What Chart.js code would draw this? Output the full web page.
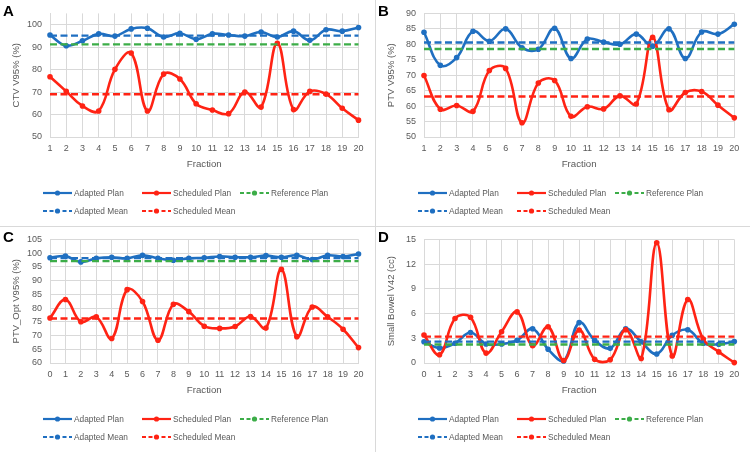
<!DOCTYPE html>
<html>
<head>
<meta charset="utf-8">
<script src="https://cdn.jsdelivr.net/npm/chart.js@4.4.1/dist/chart.umd.min.js"></script>
<style>
  html, body { margin: 0; padding: 0; background: #fff; }
  body { width: 750px; height: 452px; position: relative; overflow: hidden; font-family: "Liberation Sans", Arial, sans-serif; }
  .panel { position: absolute; width: 375px; height: 226px; }
  .panel canvas { position: absolute; left: 0; top: 0; }
  .tag { position: absolute; left: 3px; top: 3px; font: bold 15px "Liberation Sans", Arial, sans-serif; line-height: 15px; color: #000; }
  .leg { position: absolute; height: 10px; display: flex; align-items: center; white-space: nowrap;
         font-size: 8.3px; color: #595959; }
  .leg svg { margin-right: 2px; }
  .vdiv { position: absolute; left: 375px; top: 0; width: 1px; height: 452px; background: #d9d9d9; }
  .hdiv { position: absolute; left: 0; top: 226px; width: 750px; height: 1px; background: #d9d9d9; }
</style>
</head>
<body>
<div class="vdiv"></div>
<div class="hdiv"></div>

<div class="panel" id="pA" style="left:0;top:0"><canvas id="cA" width="375" height="226"></canvas><div class="tag">A</div></div>
<div class="panel" id="pB" style="left:375px;top:0"><canvas id="cB" width="375" height="226"></canvas><div class="tag">B</div></div>
<div class="panel" id="pC" style="left:0;top:226px"><canvas id="cC" width="375" height="226"></canvas><div class="tag">C</div></div>
<div class="panel" id="pD" style="left:375px;top:226px"><canvas id="cD" width="375" height="226"></canvas><div class="tag">D</div></div>

<script>
// ── Categories ───────────────────────────
const fractions1to20 = ['1','2','3','4','5','6','7','8','9','10','11','12','13','14','15','16','17','18','19','20'];
const fractions0to20 = ['0','1','2','3','4','5','6','7','8','9','10','11','12','13','14','15','16','17','18','19','20'];
const seriesNames = ['Adapted Plan', 'Scheduled Plan', 'Reference Plan', 'Adapted Mean', 'Scheduled Mean'];

// ── A: CTV V95% ──────────────────────────
const ctvAdapted   = [95.4, 90.6, 92.8, 95.9, 94.9, 98.1, 98.4, 94.5, 96.2, 93.5, 95.9, 95.4, 94.9, 96.7, 94.5, 97.1, 93.0, 97.7, 97.1, 98.7];
const ctvScheduled = [76.8, 70.3, 63.8, 61.6, 80.1, 87.4, 61.6, 78.0, 75.8, 64.8, 62.0, 60.4, 70.0, 63.3, 91.7, 62.2, 70.3, 69.1, 62.8, 57.5];
const ctvReference = 91.2;
const ctvAdaptedMean = 95.1;
const ctvScheduledMean = 69.0;
const ctvAxis = { min: 50, max: 105, step: 10 };

// ── B: PTV V95% ──────────────────────────
const ptvAdapted   = [83.9, 73.2, 75.7, 84.2, 81.0, 85.0, 78.9, 78.4, 85.2, 75.4, 81.7, 80.7, 80.0, 83.3, 79.4, 85.0, 75.4, 84.0, 83.3, 86.5];
const ptvScheduled = [69.9, 59.0, 60.2, 58.3, 71.5, 72.2, 54.6, 67.5, 68.3, 56.7, 59.8, 59.1, 63.3, 60.7, 82.3, 58.8, 64.4, 64.7, 60.3, 56.2];
const ptvReference = 78.5;
const ptvAdaptedMean = 80.6;
const ptvScheduledMean = 63.1;
const ptvAxis = { min: 50, max: 90, step: 5 };

// ── C: PTV_Opt V95% ──────────────────────
const optAdapted   = [98.3, 98.9, 96.8, 98.1, 98.5, 98.1, 99.2, 98.1, 97.4, 98.1, 98.3, 98.8, 98.5, 98.5, 99.1, 98.5, 99.2, 97.7, 99.2, 98.8, 99.7];
const optScheduled = [76.4, 83.1, 75.0, 76.8, 68.9, 86.7, 82.4, 68.3, 81.4, 78.7, 73.4, 72.6, 73.3, 76.9, 72.7, 94.1, 69.6, 80.4, 76.8, 72.3, 65.6];
const optReference = 97.1;
const optAdaptedMean = 98.2;
const optScheduledMean = 76.2;
const optAxis = { min: 60, max: 105, step: 5 };

// ── D: Small Bowel V42 ───────────────────
const bowelAdapted   = [2.57, 1.82, 2.40, 3.70, 2.30, 2.30, 2.76, 4.15, 1.66, 0.24, 4.90, 2.76, 1.78, 4.15, 2.57, 1.10, 3.36, 4.03, 2.40, 2.27, 2.60];
const bowelScheduled = [3.40, 1.00, 5.40, 5.55, 1.20, 3.80, 6.20, 2.10, 4.40, 0.30, 4.00, 0.45, 0.40, 4.03, 0.55, 14.6, 0.85, 7.70, 2.90, 1.35, 0.05];
const bowelReference = 2.25;
const bowelAdaptedMean = 2.6;
const bowelScheduledMean = 3.2;
const bowelAxis = { min: 0, max: 15, step: 3 };

const BLUE = '#1f6fc1', RED = '#ff2314', GREEN = '#3cad48';
const GRID = '#d9d9d9', TXT = '#595959';
const FONT = '"Liberation Sans", Arial, sans-serif';

// ── Dataset helpers ──────────────────────
function curve(label, data, color, order) {
  return {
    label, data, order,
    borderColor: color, backgroundColor: color,
    borderWidth: 2.6, tension: 0.4,
    pointRadius: 2.8, pointBorderWidth: 0, pointBackgroundColor: color,
    clip: false,
  };
}

function flat(label, labels, value, color, order) {
  return {
    label, order,
    data: [{ x: labels[0], y: value }, { x: labels[labels.length - 1], y: value }],
    borderColor: color, backgroundColor: color,
    borderWidth: 2.4, borderDash: [7, 3.5],
    pointRadius: 0, tension: 0,
  };
}

function legendSample(color, dashed) {
  return '<svg width="29" height="8"><line x1="0" y1="4" x2="29" y2="4" stroke="' + color + '" stroke-width="2.2"' +
    (dashed ? ' stroke-dasharray="4 2.5"' : '') + '/><circle cx="14.5" cy="4" r="2.6" fill="' + color + '"/></svg>';
}

function buildLegend(panelId) {
  const panel = document.getElementById(panelId);
  const cols = [43, 142, 240], rows = [187.5, 206];
  const items = [
    [BLUE, false, 0, 0], [RED, false, 1, 0], [GREEN, true, 2, 0],
    [BLUE, true, 0, 1], [RED, true, 1, 1],
  ];
  items.forEach((it, i) => {
    const d = document.createElement('div');
    d.className = 'leg';
    d.style.left = cols[it[2]] + 'px';
    d.style.top = rows[it[3]] + 'px';
    d.innerHTML = legendSample(it[0], it[1]) + '<span>' + seriesNames[i] + '</span>';
    panel.appendChild(d);
  });
}

// ── Panel chart ──────────────────────────
function makePanel(cfg) {
  const labels = cfg.labels;
  new Chart(document.getElementById(cfg.canvas), {
    type: 'line',
    data: {
      labels,
      datasets: [
        curve(seriesNames[0], cfg.adapted, BLUE, 5),
        curve(seriesNames[1], cfg.scheduled, RED, 4),
        flat(seriesNames[2], labels, cfg.reference, GREEN, 3),
        flat(seriesNames[3], labels, cfg.adaptedMean, BLUE, 2),
        flat(seriesNames[4], labels, cfg.scheduledMean, RED, 1),
      ],
    },
    options: {
      responsive: false,
      animation: false,
      devicePixelRatio: 1,
      layout: { padding: { top: 10, right: 375 - cfg.right, bottom: 226 - 137 - 36, left: 0 } },
      plugins: { legend: { display: false }, tooltip: { enabled: false } },
      scales: {
        x: {
          type: 'category',
          offset: false,
          grid: { color: GRID, lineWidth: 1, drawTicks: false },
          border: { color: GRID },
          ticks: { color: TXT, font: { family: FONT, size: 9 }, padding: 6, maxRotation: 0, autoSkip: false },
          title: { display: true, text: 'Fraction', color: TXT, font: { family: FONT, size: 9.7 }, padding: { top: 0, bottom: 3 } },
          afterFit: s => { s.height = 36; },
        },
        y: {
          min: cfg.axis.min, max: cfg.axis.max,
          grid: { color: GRID, lineWidth: 1, drawTicks: false },
          border: { color: GRID },
          ticks: { stepSize: cfg.axis.step, includeBounds: false, autoSkip: false, color: TXT, font: { family: FONT, size: 9 }, padding: 8 },
          title: { display: true, text: cfg.yTitle, color: TXT, font: { family: FONT, size: 9.5 }, padding: { top: 11, bottom: 0 } },
          afterFit: s => { s.width = cfg.left; },
        },
      },
    },
  });
  buildLegend(cfg.panel);
}

makePanel({ panel: 'pA', canvas: 'cA', labels: fractions1to20, adapted: ctvAdapted, scheduled: ctvScheduled,
  reference: ctvReference, adaptedMean: ctvAdaptedMean, scheduledMean: ctvScheduledMean,
  axis: ctvAxis, yTitle: 'CTV V95% (%)', left: 50, right: 358.5 });
makePanel({ panel: 'pB', canvas: 'cB', labels: fractions1to20, adapted: ptvAdapted, scheduled: ptvScheduled,
  reference: ptvReference, adaptedMean: ptvAdaptedMean, scheduledMean: ptvScheduledMean,
  axis: ptvAxis, yTitle: 'PTV V95% (%)', left: 49, right: 359.3 });
makePanel({ panel: 'pC', canvas: 'cC', labels: fractions0to20, adapted: optAdapted, scheduled: optScheduled,
  reference: optReference, adaptedMean: optAdaptedMean, scheduledMean: optScheduledMean,
  axis: optAxis, yTitle: 'PTV_Opt V95% (%)', left: 50, right: 358.5 });
makePanel({ panel: 'pD', canvas: 'cD', labels: fractions0to20, adapted: bowelAdapted, scheduled: bowelScheduled,
  reference: bowelReference, adaptedMean: bowelAdaptedMean, scheduledMean: bowelScheduledMean,
  axis: bowelAxis, yTitle: 'Small Bowel V42 (cc)', left: 49, right: 359.3 });
</script>
</body>
</html>
